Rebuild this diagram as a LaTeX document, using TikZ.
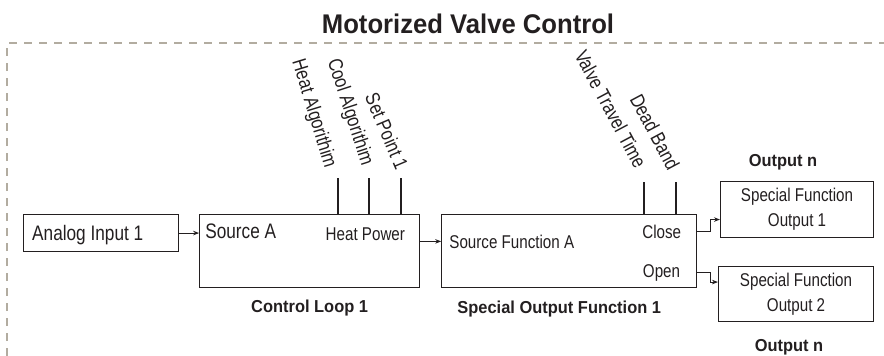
\documentclass[tikz,border=0pt]{standalone}
\usepackage{fontspec}
\setmainfont{Liberation Sans}
\newfontfamily\condfont[FakeStretch=0.82]{Liberation Sans}
\newfontfamily\headfont[FakeStretch=0.95]{Liberation Sans}
\usepackage{tikz}
\usetikzlibrary{arrows.meta,positioning,calc}
\definecolor{ink}{HTML}{231F20}
\definecolor{frameclr}{RGB}{178,172,160}

\begin{document}
\begin{tikzpicture}[
  x=1pt, y=1pt,
  block/.style={rectangle, draw=ink, line width=1.1pt, inner sep=0pt},
  intext/.style={font=\condfont\fontsize{18.5}{25}\selectfont, text=ink, inner sep=0pt},
  bigtext/.style={font=\condfont\fontsize{21}{24}\selectfont, text=ink, inner sep=0pt},
  param/.style={font=\condfont\fontsize{20}{22}\selectfont, text=ink, inner sep=0pt, anchor=base east},
  caption/.style={font=\headfont\bfseries\fontsize{17.3}{20}\selectfont, text=ink, inner sep=0pt, anchor=base},
  wire/.style={draw=ink, line width=1.1pt},
  arrow/.style={wire, -{Stealth[length=6pt, width=4.5pt]}},
]
  \useasboundingbox (0,0) rectangle (884,-356);
  \draw[frameclr, line width=2.2pt, dash pattern=on 8pt off 7pt] (7,-356) -- (7,-43) -- (884,-43);
  \node[font=\headfont\bfseries\fontsize{27}{30}\selectfont, text=ink, inner sep=0pt, anchor=base] (title) at (468,-33) {Motorized Valve Control};

  \node[block, minimum width=155pt, minimum height=37pt, anchor=north west] (analog) at (23,-214) {};
  \node[block, minimum width=220pt, minimum height=73pt, right=20pt of analog.north east, anchor=north west] (loop) {};
  \node[block, minimum width=255pt, minimum height=73pt, right=21pt of loop.north east, anchor=north west] (sof) {};
  \node[block, intext, align=center, minimum width=153pt, minimum height=56pt, anchor=north west] (out1) at (720,-181) {Special Function\\Output 1};
  \node[block, intext, align=center, minimum width=155pt, minimum height=55pt, anchor=north west] (out2) at (718,-266) {Special Function\\Output 2};

  \node[bigtext, anchor=base west] (ain) at ([shift={(9,-26)}]analog.north west) {Analog Input 1};
  \node[bigtext, anchor=base west] (srcA) at ([shift={(6,-24)}]loop.north west) {Source A};
  \node[intext, anchor=base east] (heatpow) at ([shift={(-15,-26)}]loop.north east) {Heat Power};
  \node[intext, anchor=base west] (srcfn) at ([shift={(8,-34)}]sof.north west) {Source Function A};
  \node[intext, anchor=base east] (close) at ([shift={(-16,-24)}]sof.north east) {Close};
  \node[intext, anchor=base east] (open) at ([shift={(-17,-63)}]sof.north east) {Open};

  \node[caption] (loopcap) at ([yshift=-24pt]loop.south) {Control Loop 1};
  \node[caption] (sofcap) at ([shift={(-10,-25)}]sof.south) {Special Output Function 1};
  \node[caption] (outtop) at ([shift={(-14,15)}]out1.north) {Output n};
  \node[caption] (outbot) at ([shift={(-7,-29)}]out2.south) {Output n};

  \coordinate (heatin) at (338,-178);
  \coordinate (coolin) at (369,-178);
  \coordinate (setin) at (401,-178);
  \coordinate (travelin) at (644,-182);
  \coordinate (bandin) at (676,-182);
  \draw[wire] (heatin) -- (heatin |- loop.north);
  \draw[wire] (coolin) -- (coolin |- loop.north);
  \draw[wire] (setin) -- (setin |- loop.north);
  \draw[wire] (travelin) -- (travelin |- sof.north);
  \draw[wire] (bandin) -- (bandin |- sof.north);
  \node[param, rotate=-73] (heatlbl) at ([shift={(-13,9)}]heatin) {Heat Algorithim};
  \node[param, rotate=-72] (coollbl) at ([shift={(-7,11)}]coolin) {Cool Algorithim};
  \node[param, rotate=-67] (setlbl) at ([shift={(-5,7)}]setin) {Set Point 1};
  \node[param, rotate=-62] (travellbl) at ([shift={(-9,12)}]travelin) {Valve Travel Time};
  \node[param, rotate=-62] (bandlbl) at ([shift={(-8,10)}]bandin) {Dead Band};

  \draw[arrow] (analog) -- (analog -| loop.west);
  \draw[arrow] (loop.east |- srcfn) -- (sof.west |- srcfn);
  \draw[arrow] (sof.east |- close) -- ++(13,0) |- ([yshift=-10pt]out1.west);
  \draw[arrow] (sof.east |- open) -- ++(13,0) |- ([yshift=12pt]out2.west);
\end{tikzpicture}
\end{document}
